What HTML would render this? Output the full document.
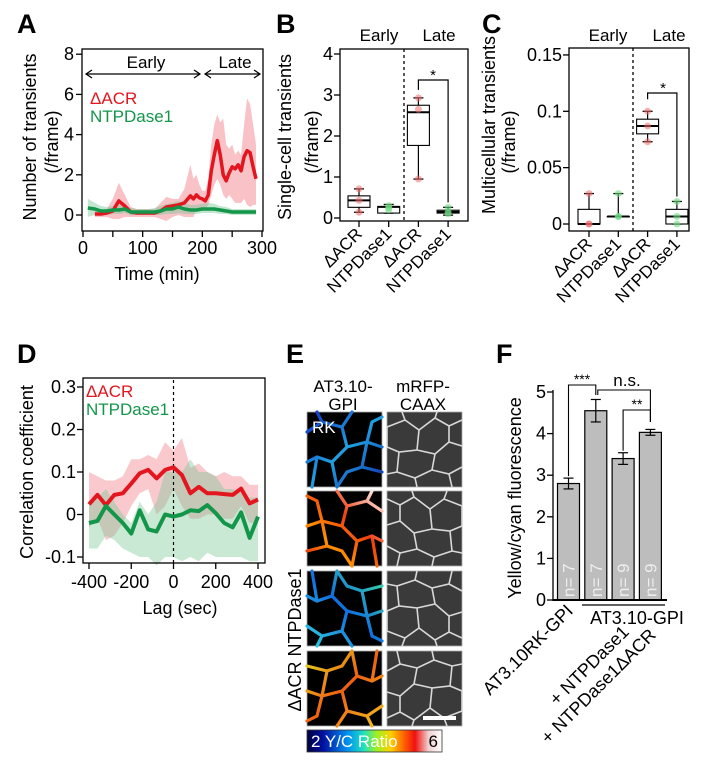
<!DOCTYPE html>
<html><head><meta charset="utf-8">
<style>
html,body{margin:0;padding:0;background:#fff;}
svg{display:block;font-family:"Liberation Sans",sans-serif;}
</style></head>
<body>
<svg id="fig" width="702" height="781" viewBox="0 0 702 781" xmlns="http://www.w3.org/2000/svg">
<defs>
<linearGradient id="cbar" x1="0" x2="1" y1="0" y2="0">
<stop offset="0" stop-color="#000040"/><stop offset="0.12" stop-color="#0010a0"/><stop offset="0.3" stop-color="#0090f0"/><stop offset="0.42" stop-color="#20e0c0"/><stop offset="0.52" stop-color="#a0f020"/><stop offset="0.62" stop-color="#ffd000"/><stop offset="0.72" stop-color="#ff6000"/><stop offset="0.8" stop-color="#f01010"/><stop offset="0.9" stop-color="#f0d0d0"/><stop offset="1" stop-color="#ffffff"/>
</linearGradient>
<linearGradient id="g1" x1="0" x2="1" y1="0" y2="1"><stop offset="0" stop-color="#1030c0"/><stop offset="0.5" stop-color="#20a0e0"/><stop offset="1" stop-color="#1030b0"/></linearGradient>
<linearGradient id="g2" x1="0" x2="1" y1="0" y2="1"><stop offset="0" stop-color="#ffffff"/><stop offset="0.4" stop-color="#f04010"/><stop offset="0.7" stop-color="#ff9000"/><stop offset="1" stop-color="#e02020"/></linearGradient>
<linearGradient id="g3" x1="0" x2="1" y1="0" y2="1"><stop offset="0" stop-color="#30d0e0"/><stop offset="0.5" stop-color="#1070e0"/><stop offset="1" stop-color="#40e0a0"/></linearGradient>
<linearGradient id="g4" x1="0" x2="1" y1="0" y2="1"><stop offset="0" stop-color="#f0c020"/><stop offset="0.5" stop-color="#f06010"/><stop offset="1" stop-color="#e0e020"/></linearGradient>
</defs>
</svg>
<script>
// ---------- DATA ----------
// Panel A
var aRedTime = [20,30,40,50,60,70,80,90,100,110,120,130,140,150,160,170,180,185,190,195,200,205,210,215,220,225,230,235,240,245,250,255,260,265,270,275,280,285,290];
var aRedMean = [0.05,0.05,0.1,0.2,0.7,0.45,0.15,0.1,0.1,0.1,0.1,0.2,0.4,0.45,0.5,0.6,0.95,0.8,1.0,0.85,0.8,0.7,1.0,2.2,3.0,3.7,3.0,2.0,1.7,2.1,2.4,2.3,2.5,2.2,2.9,3.2,3.1,2.4,1.8];
var aRedUpper = [0.2,0.2,0.3,0.8,1.6,1.0,0.4,0.3,0.3,0.3,0.3,0.6,0.9,0.8,0.8,1.3,2.5,1.8,2.0,1.5,1.2,1.2,1.8,3.5,4.5,5.0,4.6,4.8,3.5,3.3,3.5,3.0,3.2,3.0,4.5,5.8,5.5,4.5,3.5];
var aRedLower = [-0.1,-0.1,-0.1,-0.2,-0.2,-0.1,-0.1,-0.1,-0.1,-0.1,-0.1,-0.2,-0.3,-0.1,0.0,-0.1,-0.1,-0.1,0.3,0.2,0.3,0.3,0.5,1.0,1.5,1.8,1.5,1.0,0.8,1.0,0.8,0.6,0.6,0.6,0.8,0.5,0.4,0.5,0.5];
var aGreenTime = [8,20,30,40,50,60,70,80,90,100,110,120,130,140,150,160,170,180,190,200,210,220,230,240,250,260,270,280,290];
var aGreenMean = [0.35,0.3,0.2,0.2,0.25,0.25,0.3,0.15,0.15,0.15,0.15,0.15,0.2,0.3,0.3,0.4,0.3,0.25,0.25,0.3,0.3,0.3,0.25,0.2,0.15,0.15,0.15,0.15,0.15];
var aGreenUpper = [0.8,0.6,0.45,0.4,0.45,0.5,0.5,0.35,0.3,0.3,0.3,0.35,0.45,0.55,0.6,0.7,0.6,0.5,0.5,0.55,0.6,0.55,0.45,0.4,0.3,0.3,0.3,0.3,0.3];
var aGreenLower = [-0.1,0.0,0.0,0.0,0.05,0.05,0.1,0.0,0.0,0.0,0.0,0.0,0.0,0.05,0.05,0.1,0.05,0.05,0.05,0.1,0.1,0.1,0.05,0.05,0.0,0.0,0.0,0.0,0.0];
var aYTicks = [0,2,4,6,8];
var aXTicks = [0,100,200,300];
// Panel B boxes: [min, q1, median, q3, max]
var bCats = ["ΔACR","NTPDase1","ΔACR","NTPDase1"];
var bMin = [0.14,0.12,0.95,0.07];
var bQ1 = [0.26,0.12,1.77,0.12];
var bMed = [0.43,0.27,2.58,0.15];
var bQ3 = [0.54,0.28,2.75,0.19];
var bMax = [0.71,0.33,2.93,0.26];
var bPoints = [[0.71,0.43,0.14],[0.3,0.25,0.2],[2.93,2.65,0.95],[0.26,0.15,0.1]];
var bYTicks = [0,1,2,3,4];
// Panel C
var cMin = [0,0.0067,0.073,0];
var cQ1 = [0,0.0067,0.08,0];
var cMed = [0,0.0067,0.087,0.0067];
var cQ3 = [0.013,0.0067,0.093,0.013];
var cMax = [0.027,0.027,0.1,0.02];
var cPoints = [[0.027,0,0],[0.027,0.0067,0.0067],[0.1,0.087,0.073],[0.02,0.0067,0]];
var cYTicks = [0,0.05,0.1,0.15];
var cYTickLabels = ["0","0.05","0.1","0.15"];
// Panel D
var dLag = [-400,-360,-320,-280,-240,-200,-160,-120,-80,-40,0,40,80,120,160,200,240,280,320,360,400];
var dRed = [0.024,0.046,0.022,0.046,0.05,0.073,0.097,0.105,0.085,0.105,0.111,0.093,0.05,0.065,0.05,0.05,0.048,0.046,0.061,0.026,0.035];
var dRedUp = [0.1,0.09,0.08,0.08,0.09,0.13,0.13,0.14,0.13,0.17,0.15,0.18,0.11,0.12,0.1,0.09,0.1,0.09,0.09,0.07,0.07];
var dRedLo = [-0.03,-0.01,-0.06,-0.05,-0.02,0.02,0.05,0.06,0.0,0.02,0.06,0.02,-0.01,-0.01,0.0,0.0,-0.01,-0.01,0.02,-0.02,-0.02];
var dGreen = [-0.02,-0.015,0.02,0.0,-0.02,-0.045,0.01,-0.035,-0.04,0.0,-0.005,0.0,0.01,0.008,0.022,0.003,-0.02,-0.03,0.005,-0.055,-0.005];
var dGreenUp = [0.02,0.04,0.06,0.03,0.0,-0.02,0.03,0.0,0.03,0.1,0.1,0.1,0.13,0.1,0.1,0.09,0.06,0.06,0.05,0.04,0.04];
var dGreenLo = [-0.08,-0.08,-0.05,-0.06,-0.08,-0.09,-0.1,-0.1,-0.12,-0.1,-0.1,-0.11,-0.1,-0.11,-0.09,-0.1,-0.1,-0.1,-0.1,-0.11,-0.11];
var dYTicks = [-0.1,0,0.1,0.2,0.3];
var dYTickLabels = ["-0.1","0","0.1","0.2","0.3"];
var dXTicks = [-400,-200,0,200,400];
var dXTickLabels = ["-400","-200","0","200","400"];
// Panel F
var fValues = [2.8,4.55,3.4,4.03];
var fErr = [0.13,0.27,0.14,0.07];
var fN = ["n= 7","n= 7","n= 9","n= 9"];
var fYTicks = [0,1,2,3,4,5];

// ---------- HELPERS ----------
var NS = "http://www.w3.org/2000/svg";
var svg = document.getElementById('fig');
function mk(tag, attrs, name, parent) {
  var el = document.createElementNS(NS, tag);
  for (var k in attrs) el.setAttribute(k, attrs[k]);
  
  
  (parent || svg).appendChild(el);
  return el;
}
function line(x1,y1,x2,y2,name,sw,col,dash){
  var a={x1:x1,y1:y1,x2:x2,y2:y2,stroke:col||'#000','stroke-width':sw||1.3};
  if(dash) a['stroke-dasharray']=dash;
  return mk('line',a,name);
}
function txt(x,y,s,name,opt){
  opt=opt||{};
  var a={x:x,y:y,'font-size':opt.fs||17,fill:opt.fill||'#000','text-anchor':opt.anchor||'middle'};
  if(opt.bold) a['font-weight']='bold';
  if(opt.rot!==undefined) a.transform='rotate('+opt.rot+' '+x+' '+y+')';
  if(opt.op) a['fill-opacity']=opt.op;
  var t=mk('text',a,name);
  t.textContent=s;
  return t;
}
function rect(x,y,w,h,name,fill,stroke,sw){
  return mk('rect',{x:x,y:y,width:w,height:h,fill:fill||'none',stroke:stroke||'none','stroke-width':sw||1.3},name);
}
function pathLine(xs,ys,fx,fy,name,col,w){
  var d='';
  for(var i=0;i<xs.length;i++) d+=(i?'L':'M')+fx(xs[i]).toFixed(1)+','+fy(ys[i]).toFixed(1);
  return mk('path',{d:d,fill:'none',stroke:col,'stroke-width':w,'stroke-linejoin':'round'},name);
}
function band(xs,lo,hi,fx,fy,name,col){
  var d='';
  for(var i=0;i<xs.length;i++) d+=(i?'L':'M')+fx(xs[i]).toFixed(1)+','+fy(hi[i]).toFixed(1);
  for(var j=xs.length-1;j>=0;j--) d+='L'+fx(xs[j]).toFixed(1)+','+fy(lo[j]).toFixed(1);
  d+='Z';
  return mk('path',{d:d,fill:col,stroke:'none'},name);
}
var RED='#e3151e', GREEN='#13964a';

// ---------- PANEL LETTERS ----------
txt(17,33,'A','panel-label-a',{fs:27,bold:1,anchor:'start'});
txt(276,33,'B','panel-label-b',{fs:27,bold:1,anchor:'start'});
txt(482,33,'C','panel-label-c',{fs:27,bold:1,anchor:'start'});
txt(17,363,'D','panel-label-d',{fs:27,bold:1,anchor:'start'});
txt(286,363,'E','panel-label-e',{fs:27,bold:1,anchor:'start'});
txt(496,363,'F','panel-label-f',{fs:27,bold:1,anchor:'start'});

// ---------- PANEL A ----------
(function(){
  var xA=function(t){return 83+t*(179/300);};
  var yA=function(v){return 215-v*20.1;};
  band(aRedTime,aRedLower,aRedUpper,xA,yA,'a-red-band','rgba(240,120,130,0.45)');
  band(aGreenTime,aGreenLower,aGreenUpper,xA,yA,'a-green-band','rgba(120,200,150,0.45)');
  pathLine(aRedTime,aRedMean,xA,yA,'a-red-line',RED,3.5);
  pathLine(aGreenTime,aGreenMean,xA,yA,'a-green-line',GREEN,3.5);
  rect(82,49,181,182,'a-plot-frame','none','#000',1.3);
  aYTicks.forEach(function(v){line(76,yA(v),82,yA(v),'a-y-tick');txt(74,yA(v)+6,String(v),'a-y-tick-label',{anchor:'end',fs:18});});
  aXTicks.forEach(function(v){line(xA(v),231,xA(v),237,'a-x-tick');txt(xA(v),254,String(v),'a-x-tick-label',{fs:18});});
  [50,150,250].forEach(function(v){line(xA(v),231,xA(v),237,'a-x-minor-tick');});
  txt(157,280,'Time (min)','a-x-axis-title',{fs:18});
  txt(36,137,'Number of transients','a-y-axis-title',{fs:18,rot:-90});
  txt(58,142,'(/frame)','a-y-axis-subtitle',{fs:18,rot:-90});
  line(86,74,200,74,'a-early-arrow',1.2);
  mk('path',{d:'M92,70 L86,74 L92,78 M194,70 L200,74 L194,78',fill:'none',stroke:'#000','stroke-width':1.2},'a-early-arrowheads');
  line(205,74,260,74,'a-late-arrow',1.2);
  mk('path',{d:'M211,70 L205,74 L211,78 M254,70 L260,74 L254,78',fill:'none',stroke:'#000','stroke-width':1.2},'a-late-arrowheads');
  txt(146,68,'Early','a-early-label',{fs:17});
  txt(235,68,'Late','a-late-label',{fs:17});
  txt(90,104,'ΔACR','a-legend-dacr',{fs:17,fill:RED,anchor:'start'});
  txt(90,122,'NTPDase1','a-legend-ntpdase1',{fs:17,fill:GREEN,anchor:'start'});
})();

// ---------- BOX PANELS ----------
function boxPanel(pre,fx,fy,left,right,top,bottom,mins,q1,med,q3,maxs,pts,ticks,tlabels,dashX){
  var cols=['rgba(240,110,110,0.55)','rgba(110,220,130,0.6)','rgba(240,110,110,0.55)','rgba(110,220,130,0.6)'];
  line(dashX,top,dashX,bottom,pre+'-early-late-divider',1.3,'#000','3,3');
  for(var i=0;i<4;i++){
    var x=fx(i), w=11;
    line(x,fy(maxs[i]),x,fy(q3[i]),pre+'-whisker-upper',1.2);
    line(x,fy(q1[i]),x,fy(mins[i]),pre+'-whisker-lower',1.2);
    line(x-5,fy(maxs[i]),x+5,fy(maxs[i]),pre+'-whisker-cap',1.3);
    line(x-5,fy(mins[i]),x+5,fy(mins[i]),pre+'-whisker-cap',1.3);
    rect(x-w,fy(q3[i]),2*w,Math.max(fy(q1[i])-fy(q3[i]),0.5),pre+'-box','#fff','#000',1.1);
    line(x-w,fy(med[i]),x+w,fy(med[i]),pre+'-median',2);
    pts[i].forEach(function(p){mk('circle',{cx:x,cy:fy(p),r:3.5,fill:cols[i]},pre+'-data-point');});
    txt(x+4,bottom+14,bCats[i],pre+'-x-tick-label',{fs:17,anchor:'end',rot:-45});
    line(x,bottom,x,bottom+6,pre+'-x-tick');
  }
  rect(left,top,right-left,bottom-top,pre+'-plot-frame','none','#000',1.3);
  ticks.forEach(function(v,k){line(left-6,fy(v),left,fy(v),pre+'-y-tick');txt(left-7,fy(v)+6,tlabels[k],pre+'-y-tick-label',{anchor:'end',fs:18});});
}
(function(){
  var fx=function(i){return 359+i*29.7;};
  var fy=function(v){return 218-v*41;};
  boxPanel('b',fx,fy,340,468,49,221,bMin,bQ1,bMed,bQ3,bMax,bPoints,bYTicks,bYTicks.map(String),404);
  txt(379,41,'Early','b-early-label',{fs:17});
  txt(439,41,'Late','b-late-label',{fs:17});
  mk('path',{d:'M'+fx(2)+','+(fy(2.93)-8)+' L'+fx(2)+',80 L'+fx(3)+',80 L'+fx(3)+','+(fy(0.26)-5),fill:'none',stroke:'#000','stroke-width':1.2},'b-significance-bracket');
  txt(433,80,'*','b-significance-star',{fs:15});
  txt(291,137,'Single-cell transients','b-y-axis-title',{fs:18,rot:-90});
  txt(318,142,'(/frame)','b-y-axis-subtitle',{fs:18,rot:-90});
})();
(function(){
  var fx=function(i){return 589+i*29.3;};
  var fy=function(v){return 224-v*1127;};
  boxPanel('c',fx,fy,569,689,48,231,cMin,cQ1,cMed,cQ3,cMax,cPoints,cYTicks,cYTickLabels,633);
  txt(608,41,'Early','c-early-label',{fs:17});
  txt(669,41,'Late','c-late-label',{fs:17});
  mk('path',{d:'M'+fx(2)+','+(fy(0.1)-12)+' L'+fx(2)+',93 L'+fx(3)+',93 L'+fx(3)+','+(fy(0.02)-5),fill:'none',stroke:'#000','stroke-width':1.2},'c-significance-bracket');
  txt(663,93,'*','c-significance-star',{fs:15});
  txt(495,125,'Multicellular transients','c-y-axis-title',{fs:18,rot:-90});
  txt(515,142,'(/frame)','c-y-axis-subtitle',{fs:18,rot:-90});
})();

// ---------- PANEL D ----------
(function(){
  var xD=function(l){return 173.5+l*(169/800);};
  var yD=function(v){return 514.5-v*425;};
  band(dLag,dRedLo,dRedUp,xD,yD,'d-red-band','rgba(240,120,130,0.4)');
  band(dLag,dGreenLo,dGreenUp,xD,yD,'d-green-band','rgba(120,200,150,0.4)');
  line(xD(0),380,xD(0),563,'d-zero-lag-line',1.2,'#000','3,3');
  pathLine(dLag,dRed,xD,yD,'d-red-line',RED,4);
  pathLine(dLag,dGreen,xD,yD,'d-green-line',GREEN,4);
  rect(83,378,182,185,'d-plot-frame','none','#000',1.3);
  dYTicks.forEach(function(v,k){line(77,yD(v),83,yD(v),'d-y-tick');txt(76,yD(v)+6,dYTickLabels[k],'d-y-tick-label',{anchor:'end',fs:18});});
  dXTicks.forEach(function(v,k){line(xD(v),563,xD(v),569,'d-x-tick');txt(xD(v),588,dXTickLabels[k],'d-x-tick-label',{fs:18});});
  txt(180,614,'Lag (sec)','d-x-axis-title',{fs:18});
  txt(33,472,'Correlation coefficient','d-y-axis-title',{fs:18,rot:-90});
  txt(86,397,'ΔACR','d-legend-dacr',{fs:17,fill:RED,anchor:'start'});
  txt(86,415,'NTPDase1','d-legend-ntpdase1',{fs:17,fill:GREEN,anchor:'start'});
})();

// ---------- PANEL E (micrographs) ----------
(function(){
  var gpiNet='M0,20 L15,10 L35,15 L45,0 M35,15 L40,35 L25,50 L10,45 L0,50 M40,35 L60,30 L75,35 M60,30 L65,10 L75,5 M25,50 L30,75 M60,30 L55,55 L40,60 L30,75 M55,55 L75,60 M10,45 L5,75 M15,10 L10,0';
  var caaxNet='M0,15 L18,8 L32,18 L48,6 L62,14 L75,8 M18,8 L15,0 M48,6 L50,0 M32,18 L30,38 L12,40 L0,35 M30,38 L48,42 L62,30 L62,14 M62,30 L75,34 M12,40 L10,60 L0,62 M10,60 L28,66 L30,75 M28,66 L45,58 L48,42 M45,58 L62,62 L75,55 M62,62 L65,75 M0,15 L0,35';
  var grads=['url(#g1)','url(#g2)','url(#g3)','url(#g4)'];
  var tf=['','translate(75,0) scale(-1,1)','translate(0,75) scale(1,-1)','translate(75,75) scale(-1,-1)'];
  var rowsY=[412,491,571,651];
  for(var r=0;r<4;r++){
    var g1=mk('g',{transform:'translate(307,'+rowsY[r]+')'},'e-gpi-image-row'+(r+1));
    mk('rect',{x:0,y:0,width:75,height:75,fill:'#000',stroke:'#aaa','stroke-width':0.8},'e-gpi-image-bg',g1);
    var gi=mk('g',{transform:tf[r]},'e-gpi-network',g1);
    mk('path',{d:gpiNet,fill:'none',stroke:grads[r],'stroke-width':3.2,'stroke-linecap':'round'},'e-gpi-membrane',gi);
    var g2=mk('g',{transform:'translate(387,'+rowsY[r]+')'},'e-caax-image-row'+(r+1));
    mk('rect',{x:0,y:0,width:75,height:75,fill:'#3a3a3a',stroke:'#aaa','stroke-width':0.8},'e-caax-image-bg',g2);
    var gc=mk('g',{transform:tf[r]},'e-caax-network',g2);
    mk('path',{d:caaxNet,fill:'none',stroke:'#d8d8d8','stroke-width':1.6},'e-caax-membrane',gc);
  }
  rect(423,716,33,4,'e-scale-bar','#fff');
  txt(312,433,'RK','e-rk-label',{fs:17,fill:'#fff',anchor:'start'});
  txt(343,392,'AT3.10-','e-col1-title-line1',{fs:17});
  txt(343,410,'GPI','e-col1-title-line2',{fs:17});
  txt(423,392,'mRFP-','e-col2-title-line1',{fs:17});
  txt(423,410,'CAAX','e-col2-title-line2',{fs:17});
  txt(301,640,'ΔACR NTPDase1','e-row-label',{fs:18,rot:-90});
  rect(307,730,135,22,'e-colorbar','url(#cbar)','#333',0.8);
  txt(311,747,'2 Y/C Ratio','e-colorbar-label',{fs:17,fill:'#fff',anchor:'start'});
  txt(438,747,'6','e-colorbar-max',{fs:17,anchor:'end'});
})();

// ---------- PANEL F ----------
(function(){
  var xF=function(i){return 568.5+i*27.3;};
  var yF=function(v){return 600-v*41.6;};
  for(var i=0;i<4;i++){
    var x=xF(i);
    rect(x-11,yF(fValues[i]),22,600-yF(fValues[i]),'f-bar-'+(i+1),'#bdbdbd','#000',1.2);
    var t=yF(fValues[i]+fErr[i]), b=yF(fValues[i]-fErr[i]);
    line(x,t,x,b,'f-error-bar',1.2);
    line(x-5,t,x+5,t,'f-error-cap',1.2);
    line(x-5,b,x+5,b,'f-error-cap',1.2);
    txt(x+6,597,fN[i],'f-n-label',{fs:17,fill:'#fff',anchor:'start',rot:-90,op:0.75});
  }
  line(553,390,553,601,'f-y-axis',1.3);
  line(553,600,667,600,'f-baseline',2);
  fYTicks.forEach(function(v){line(547,yF(v),553,yF(v),'f-y-tick');txt(546,yF(v)+6,String(v),'f-y-tick-label',{anchor:'end',fs:18});});
  txt(521,498,'Yellow/cyan fluorescence','f-y-axis-title',{fs:18,rot:-90});
  line(582,605,665,605,'f-group-line',1.2);
  txt(637,624,'AT3.10-GPI','f-group-label',{fs:18});
  txt(574,612,'AT3.10RK-GPI','f-x-label-1',{fs:18,anchor:'end',rot:-45});
  txt(630,633,'+ NTPDase1','f-x-label-2',{fs:18,anchor:'end',rot:-45});
  txt(657,636,'+ NTPDase1ΔACR','f-x-label-3',{fs:18,anchor:'end',rot:-45});
  mk('path',{d:'M'+xF(0)+','+(yF(2.93)-2)+' L'+xF(0)+',385 L'+xF(1)+',385 L'+xF(1)+',395',fill:'none',stroke:'#000','stroke-width':1.1},'f-bracket-triple');
  txt(582,384,'***','f-sig-triple',{fs:14});
  mk('path',{d:'M'+(xF(1)+2)+',395 L'+(xF(1)+2)+',390 L'+xF(3)+',390 L'+xF(3)+',422',fill:'none',stroke:'#000','stroke-width':1.1},'f-bracket-ns');
  txt(627,386,'n.s.','f-sig-ns',{fs:17});
  mk('path',{d:'M'+xF(2)+','+(yF(3.54)-2)+' L'+xF(2)+',410 L'+xF(3)+',410 L'+xF(3)+',422',fill:'none',stroke:'#000','stroke-width':1.1},'f-bracket-double');
  txt(637,409,'**','f-sig-double',{fs:14});
})();
</script>
</body></html>
